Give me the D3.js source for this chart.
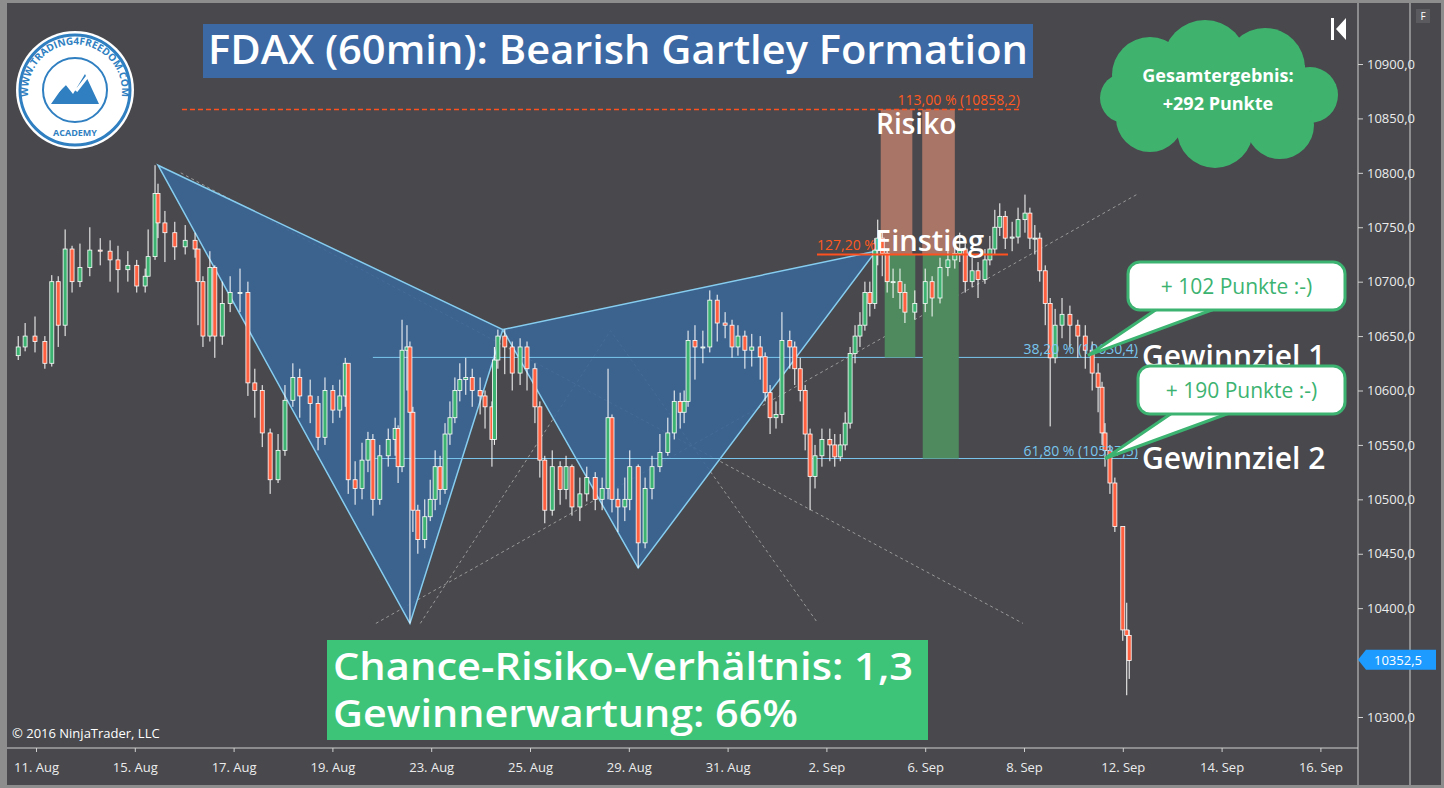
<!DOCTYPE html>
<html><head><meta charset="utf-8">
<script src="https://cdn.jsdelivr.net/npm/d3@7"></script>
<style>body{margin:0;background:#48484d;overflow:hidden}text{font-family:"Open Sans",sans-serif}</style>
</head><body><div id="chart"></div>
<script>
// trading days shown on the axis (index = day position)
var days = ["11. Aug","12. Aug","15. Aug","16. Aug","17. Aug","18. Aug","19. Aug","22. Aug","23. Aug","24. Aug","25. Aug","26. Aug","29. Aug","30. Aug","31. Aug","1. Sep","2. Sep","5. Sep","6. Sep","7. Sep","8. Sep","9. Sep","12. Sep","13. Sep","14. Sep","15. Sep","16. Sep"];
var priceTicks = [10300,10400,10450,10500,10550,10600,10650,10700,10750,10800,10850,10900];

// candles: [day position, close, high, low]  (open = previous close)
var candles = [
[-0.34,10640,10650,10628],[-0.20,10650,10662,10636],[0.00,10645,10668,10635],[0.20,10625,10650,10620],
[0.34,10700,10706,10622],[0.47,10660,10705,10640],[0.61,10730,10748,10650],[0.75,10700,10733,10690],
[0.91,10713,10735,10695],[1.11,10729,10750,10705],[1.32,10728,10740,10715],[1.52,10720,10738,10700],
[1.68,10711,10733,10690],[1.88,10715,10728,10700],[2.06,10696,10720,10690],[2.23,10705,10712,10690],
[2.29,10723,10748,10705],[2.43,10781,10807,10720],[2.49,10754,10790,10740],[2.63,10745,10765,10718],
[2.83,10732,10755,10720],[3.04,10738,10752,10725],[3.24,10730,10745,10722],[3.30,10700,10710,10660],
[3.40,10650,10705,10640],[3.54,10713,10728,10645],[3.64,10650,10715,10630],[3.79,10680,10700,10642],
[3.95,10690,10705,10672],[4.15,10690,10712,10672],[4.31,10607,10700,10595],[4.45,10600,10620,10575],
[4.60,10561,10605,10548],[4.76,10518,10565,10505],[4.92,10545,10560,10515],[5.06,10591,10605,10540],
[5.22,10612,10625,10585],[5.36,10595,10620,10575],[5.57,10588,10610,10570],[5.73,10557,10595,10545],
[5.87,10600,10612,10550],[6.03,10582,10605,10570],[6.17,10595,10610,10575],[6.28,10625,10630,10585],
[6.34,10518,10625,10505],[6.48,10510,10535,10495],[6.62,10536,10552,10500],[6.74,10555,10562,10525],
[6.84,10500,10560,10485],[6.98,10540,10550,10495],[7.15,10555,10565,10530],[7.29,10565,10575,10540],
[7.35,10530,10568,10515],[7.43,10637,10665,10525],[7.53,10640,10660,10600],[7.59,10580,10645,10386],
[7.65,10490,10585,10470],[7.75,10463,10495,10450],[7.89,10484,10500,10455],[8.00,10500,10518,10480],
[8.10,10530,10545,10490],[8.20,10509,10540,10495],[8.30,10560,10570,10505],[8.40,10575,10590,10550],
[8.50,10600,10612,10570],[8.60,10610,10625,10590],[8.72,10612,10630,10596],[8.85,10600,10620,10585],
[9.01,10595,10612,10578],[9.11,10585,10600,10565],[9.25,10555,10590,10530],[9.30,10628,10640,10550],
[9.37,10650,10656,10620],[9.51,10640,10656,10615],[9.66,10616,10645,10600],[9.82,10640,10648,10605],
[9.96,10620,10645,10600],[10.12,10585,10625,10570],[10.22,10536,10590,10520],[10.32,10490,10540,10478],
[10.47,10530,10545,10485],[10.63,10509,10535,10495],[10.75,10530,10540,10500],[10.87,10493,10532,10485],
[11.03,10505,10520,10480],[11.17,10520,10530,10498],[11.34,10500,10525,10490],[11.48,10510,10520,10490],
[11.60,10575,10620,10500],[11.68,10500,10578,10488],[11.80,10493,10510,10470],[11.94,10500,10520,10480],
[12.04,10530,10545,10490],[12.21,10460,10532,10437],[12.35,10510,10520,10455],[12.49,10530,10540,10500],
[12.65,10543,10560,10525],[12.81,10561,10575,10540],[12.94,10590,10600,10555],[13.06,10580,10598,10565],
[13.14,10590,10600,10570],[13.22,10646,10655,10585],[13.36,10640,10660,10610],[13.52,10640,10655,10625],
[13.66,10683,10692,10635],[13.81,10662,10688,10645],[13.97,10660,10672,10648],[14.11,10640,10665,10630],
[14.23,10650,10660,10632],[14.37,10637,10655,10620],[14.51,10640,10652,10622],[14.68,10631,10650,10610],
[14.78,10598,10635,10590],[14.88,10575,10605,10560],[15.00,10578,10590,10565],[15.12,10646,10672,10570],
[15.28,10640,10655,10620],[15.38,10620,10645,10605],[15.49,10600,10630,10590],[15.59,10560,10605,10545],
[15.69,10521,10565,10490],[15.79,10540,10550,10510],[15.93,10555,10565,10530],[16.09,10550,10565,10535],
[16.19,10539,10560,10530],[16.30,10550,10560,10535],[16.40,10570,10580,10545],[16.50,10634,10640,10565],
[16.60,10650,10660,10625],[16.70,10660,10672,10640],[16.80,10690,10700,10655],[16.90,10680,10700,10668],
[17.00,10729,10740,10675],[17.06,10740,10757,10715],[17.15,10726,10745,10705],[17.25,10700,10730,10690],
[17.37,10700,10712,10685],[17.51,10690,10712,10675],[17.61,10672,10698,10662],[17.81,10680,10692,10665],
[18.02,10700,10712,10672],[18.16,10685,10705,10668],[18.32,10713,10722,10680],[18.48,10720,10733,10705],
[18.62,10726,10740,10712],[18.72,10730,10745,10718],[18.83,10700,10735,10690],[18.97,10710,10722,10695],
[19.09,10702,10718,10685],[19.23,10720,10730,10698],[19.33,10730,10742,10715],[19.43,10750,10766,10725],
[19.53,10760,10772,10742],[19.64,10740,10765,10730],[19.78,10741,10755,10728],[19.90,10757,10768,10735],
[20.04,10763,10780,10745],[20.14,10740,10768,10730],[20.24,10740,10752,10725],[20.34,10710,10745,10700],
[20.45,10680,10715,10660],[20.55,10630,10685,10567],[20.65,10660,10675,10625],[20.79,10670,10685,10648],
[20.95,10660,10678,10640],[21.11,10650,10665,10630],[21.26,10637,10660,10620],[21.40,10616,10645,10600],
[21.52,10603,10625,10580],[21.60,10561,10608,10550],[21.66,10545,10570,10530],[21.76,10515,10550,10505],
[21.86,10475,10520,10470],[22.02,10380,10425,10370],[22.10,10375,10405,10320],[22.15,10352,10380,10335]
];

// Gartley points X, A, B, C, D as [day position, price]
var gartley = [[2.49,10807],[7.59,10386],[9.47,10656],[12.21,10437],[17.02,10728]];
var fibLevels = [
  {label:"38,20 % (10630,4)", price:10630.4, name:"Gewinnziel 1"},
  {label:"61,80 % (10537,5)", price:10537.5, name:"Gewinnziel 2"}
];
var entryPrice = 10725, stopPrice = 10858.2, lastPrice = 10352.5;

var W = 1444, H = 788;
var svg = d3.select("#chart").append("svg").attr("width", W).attr("height", H);
var x = d3.scaleLinear().domain([0, 26]).range([35, 35 + 26 * 49.4]);
var y = d3.scaleLinear().domain([10300, 10900]).range([717, 64]);

// frame
svg.append("rect").attr("width", W).attr("height", H).attr("fill", "#48484d");
svg.append("rect").attr("x", 0).attr("y", 0).attr("width", 7).attr("height", H).attr("fill", "#8d8d8d");
svg.append("rect").attr("x", 0).attr("y", 0).attr("width", W).attr("height", 3).attr("fill", "#8d8d8d");
svg.append("rect").attr("x", W - 3).attr("y", 0).attr("width", 3).attr("height", H).attr("fill", "#8d8d8d");
svg.append("rect").attr("x", 0).attr("y", H - 3).attr("width", W).attr("height", 3).attr("fill", "#8d8d8d");
svg.append("line").attr("x1", 7).attr("x2", 1358).attr("y1", 748).attr("y2", 748).attr("stroke", "#d0d0d0");
svg.append("line").attr("x1", 1358).attr("x2", 1358).attr("y1", 3).attr("y2", 785).attr("stroke", "#d0d0d0");
svg.append("line").attr("x1", 1410).attr("x2", 1410).attr("y1", 3).attr("y2", 785).attr("stroke", "#d0d0d0");

// axes
var yAxis = d3.axisRight(y).tickValues(priceTicks).tickSize(5)
  .tickFormat(function(d) { return d3.format(".1f")(d).replace(".", ","); });
svg.append("g").attr("transform", "translate(1358,0)").call(yAxis)
  .call(function(g) { g.select(".domain").remove(); })
  .call(function(g) {
    g.selectAll("line").attr("stroke", "#d0d0d0");
    g.selectAll("text").attr("fill", "#ececec").style("font-size", "13px").attr("x", 9);
  });
var labelDays = d3.range(0, 27, 2);
var xAxis = d3.axisBottom(x).tickValues(labelDays).tickSize(4)
  .tickFormat(function(d) { return days[d]; });
svg.append("g").attr("transform", "translate(1,748)").call(xAxis)
  .call(function(g) { g.select(".domain").remove(); })
  .call(function(g) {
    g.selectAll("line").attr("stroke", "#d0d0d0");
    g.selectAll("text").attr("fill", "#ececec").style("font-size", "13px").attr("dy", "1.3em");
  });

// guide lines (dotted gray)
var guides = [[[2.95,10800],[20.0,10386]],[[6.9,10386],[22.3,10780]],[[7.8,10386],[11.65,10655],[15.85,10386]]];
guides.forEach(function(g) {
  svg.append("path").attr("d", d3.line().x(function(p){return x(p[0]);}).y(function(p){return y(p[1]);})(g))
    .attr("fill", "none").attr("stroke", "#9a9a9a").attr("stroke-width", 1).attr("stroke-dasharray", "3,3");
});

// Gartley triangles
var pt = function(p) { return [x(p[0]), y(p[1])]; };
[[0,1,2],[2,3,4]].forEach(function(tri) {
  svg.append("path").attr("d", "M" + tri.map(function(i){ return pt(gartley[i]); }).join("L") + "Z")
    .attr("fill", "#3b6696").attr("fill-opacity", 0.9).attr("stroke", "#86cdf0").attr("stroke-width", 1.5);
});

// fib levels
var fibX0 = x(6.84), fibX1 = 1138;
fibLevels.forEach(function(f) {
  svg.append("line").attr("x1", fibX0).attr("x2", fibX1).attr("y1", y(f.price)).attr("y2", y(f.price))
    .attr("stroke", "#79c6ee").attr("stroke-width", 1);
});

// risk / reward bars
var bars = [{x0:17.12,x1:17.76},{x0:17.96,x1:18.62}];
svg.selectAll(".risk").data(bars).enter().append("rect")
  .attr("x", function(d){return x(d.x0);}).attr("width", function(d){return x(d.x1)-x(d.x0);})
  .attr("y", y(stopPrice)).attr("height", y(entryPrice) - y(stopPrice)).attr("fill", "#a97566");
var rewards = [{x0:17.2,x1:17.82,p:fibLevels[0].price},{x0:17.97,x1:18.7,p:fibLevels[1].price}];
svg.selectAll(".rew").data(rewards).enter().append("rect")
  .attr("x", function(d){return x(d.x0);}).attr("width", function(d){return x(d.x1)-x(d.x0);})
  .attr("y", y(entryPrice)).attr("height", function(d){return y(d.p) - y(entryPrice);}).attr("fill", "#4e8a5e");

// candles
var cw = 3;
var cg = svg.append("g");
candles.forEach(function(c, i) {
  var open = i === 0 ? c[1] - 8 : candles[i - 1][1];
  var cx = x(c[0]);
  cg.append("line").attr("x1", cx).attr("x2", cx).attr("y1", y(c[2])).attr("y2", y(c[3]))
    .attr("stroke", "#ffffff").attr("stroke-width", 1);
  var top = y(Math.max(open, c[1])), bot = y(Math.min(open, c[1]));
  cg.append("rect").attr("x", cx - cw / 2 - 0.5).attr("y", top).attr("width", cw + 1)
    .attr("height", Math.max(1, bot - top))
    .attr("fill", c[1] >= open ? "#3cb371" : "#ff6040").attr("stroke", "#ffffff").attr("stroke-width", 0.8);
});

// stop and entry lines
svg.append("line").attr("x1", 182).attr("x2", 1020).attr("y1", y(stopPrice)).attr("y2", y(stopPrice))
  .attr("stroke", "#ff5020").attr("stroke-width", 1.5).attr("stroke-dasharray", "5,3");
svg.append("text").attr("x", 1020).attr("y", y(stopPrice) - 4).attr("text-anchor", "end")
  .attr("fill", "#ff5a20").style("font-size", "14px").text("113,00 % (" + d3.format(".1f")(stopPrice).replace(".", ",") + ")");
svg.append("line").attr("x1", 817).attr("x2", 1008).attr("y1", y(entryPrice)).attr("y2", y(entryPrice))
  .attr("stroke", "#ff5020").attr("stroke-width", 2);
svg.append("text").attr("x", 817).attr("y", y(entryPrice) - 4).attr("fill", "#ff5a20")
  .style("font-size", "14px").text("127,20 %");
fibLevels.forEach(function(f) {
  svg.append("text").attr("x", fibX1).attr("y", y(f.price) - 3).attr("text-anchor", "end")
    .attr("fill", "#79c6ee").style("font-size", "14px").text(f.label);
  svg.append("text").attr("x", 1142).attr("y", y(f.price) + 10).attr("fill", "#ffffff")
    .style("font-size", "30px").style("font-weight", "600").text(f.name);
});
svg.append("text").attr("x", 876).attr("y", 134).attr("fill", "#ffffff")
  .style("font-size", "28px").style("font-weight", "600").text("Risiko");
svg.append("text").attr("x", 875).attr("y", 251).attr("fill", "#ffffff")
  .style("font-size", "29px").style("font-weight", "600").text("Einstieg");

// speech bubbles
var bubbles = [
  {x:1128, y:262, w:217, h:48, text:"+ 102 Punkte :-)", tip:[1088, y(fibLevels[0].price) - 2], base:[1160, 1220]},
  {x:1138, y:366, w:207, h:48, text:"+ 190 Punkte :-)", tip:[1105, y(fibLevels[1].price)], base:[1175, 1235]}
];
bubbles.forEach(function(b) {
  var g = svg.append("g");
  g.append("path").attr("d", "M" + b.base[0] + "," + (b.y + b.h - 3) + "L" + b.tip[0] + "," + b.tip[1] + "L" + b.base[1] + "," + (b.y + b.h - 3) + "Z")
    .attr("fill", "#ffffff").attr("stroke", "#3cb371").attr("stroke-width", 3);
  g.append("rect").attr("x", b.x).attr("y", b.y).attr("width", b.w).attr("height", b.h).attr("rx", 12)
    .attr("fill", "#ffffff").attr("stroke", "#3cb371").attr("stroke-width", 3);
  g.append("rect").attr("x", b.base[0] + 2).attr("y", b.y + b.h - 8).attr("width", b.base[1] - b.base[0] - 4).attr("height", 6).attr("fill", "#ffffff");
  g.append("text").attr("x", b.x + b.w / 2).attr("y", b.y + b.h / 2 + 8).attr("text-anchor", "middle")
    .attr("fill", "#3cb371").style("font-size", "21px").text(b.text);
});

// cloud
var cloud = [[1150,75,38],[1205,62,42],[1265,68,40],[1310,95,28],[1280,125,34],[1215,130,38],[1150,118,34],[1125,98,25]];
var cl = svg.append("g");
cloud.forEach(function(c) { cl.append("circle").attr("cx", c[0]).attr("cy", c[1]).attr("r", c[2]).attr("fill", "#3fb36e"); });
cl.append("rect").attr("x", 1135).attr("y", 65).attr("width", 170).attr("height", 70).attr("fill", "#3fb36e");
cl.append("text").attr("x", 1218).attr("y", 82).attr("text-anchor", "middle").attr("fill", "#fff")
  .style("font-size", "18px").style("font-weight", "700").text("Gesamtergebnis:");
cl.append("text").attr("x", 1218).attr("y", 110).attr("text-anchor", "middle").attr("fill", "#fff")
  .style("font-size", "18px").style("font-weight", "700").text("+292 Punkte");

// title
svg.append("rect").attr("x", 203).attr("y", 24).attr("width", 830).attr("height", 54).attr("fill", "#3c69a3");
svg.append("text").attr("x", 208).attr("y", 64).attr("textLength", 820).attr("lengthAdjust", "spacingAndGlyphs")
  .attr("fill", "#ffffff").style("font-size", "40px").style("font-weight", "600").text("FDAX (60min): Bearish Gartley Formation");

// result box
svg.append("rect").attr("x", 327).attr("y", 640).attr("width", 601).attr("height", 100).attr("fill", "#3ec479");
svg.append("text").attr("x", 333).attr("y", 680).attr("textLength", 580).attr("lengthAdjust", "spacingAndGlyphs")
  .attr("fill", "#ffffff").style("font-size", "38px").style("font-weight", "600").text("Chance-Risiko-Verhältnis: 1,3");
svg.append("text").attr("x", 333).attr("y", 727).attr("textLength", 465).attr("lengthAdjust", "spacingAndGlyphs")
  .attr("fill", "#ffffff").style("font-size", "38px").style("font-weight", "600").text("Gewinnerwartung: 66%");

// logo
var lg = svg.append("g").attr("transform", "translate(75,90)");
lg.append("circle").attr("r", 59).attr("fill", "#ffffff");
lg.append("circle").attr("r", 55).attr("fill", "none").attr("stroke", "#2f7fc1").attr("stroke-width", 3);
lg.append("circle").attr("r", 32).attr("fill", "#ffffff").attr("stroke", "#2f7fc1").attr("stroke-width", 2);
lg.append("path").attr("d", "M-24,14L-10,-6L-2,4L10,-16L24,14Z").attr("fill", "#2f7fc1");
lg.append("path").attr("d", "M-22,6L-8,-8L2,0L16,-18").attr("fill", "none").attr("stroke", "#ffffff").attr("stroke-width", 3);
lg.append("path").attr("id", "logoArc").attr("d", "M-44,18A47,47 0 1,1 44,18").attr("fill", "none");
lg.append("text").style("font-size", "10px").style("font-weight", "700").attr("fill", "#2f7fc1")
  .append("textPath").attr("href", "#logoArc").attr("startOffset", "50%").attr("text-anchor", "middle").text("WWW.TRADING4FREEDOM.COM");
lg.append("text").attr("y", 46).attr("text-anchor", "middle").style("font-size", "9px").style("font-weight", "700")
  .attr("fill", "#2f7fc1").text("ACADEMY");

// last price marker
var lp = y(lastPrice);
svg.append("path").attr("d", "M1358," + lp + "L1366," + (lp - 10) + "L1436," + (lp - 10) + "L1436," + (lp + 10) + "L1366," + (lp + 10) + "Z")
  .attr("fill", "#1e9bff");
svg.append("text").attr("x", 1374).attr("y", lp + 5).attr("fill", "#ffffff").style("font-size", "13px")
  .text(d3.format(".1f")(lastPrice).replace(".", ","));

// misc
svg.append("text").attr("x", 12).attr("y", 738).attr("fill", "#ffffff").style("font-size", "13px").text("© 2016 NinjaTrader, LLC");
svg.append("path").attr("d", "M1331,18L1334,18L1334,40L1331,40Z M1346,18L1336,29L1346,40Z").attr("fill", "#ffffff");
svg.append("rect").attr("x", 1416).attr("y", 9).attr("width", 14).attr("height", 14).attr("fill", "#5a5a5f");
svg.append("text").attr("x", 1423).attr("y", 20).attr("text-anchor", "middle").attr("fill", "#fff").style("font-size", "10px").text("F");
</script></body></html>
